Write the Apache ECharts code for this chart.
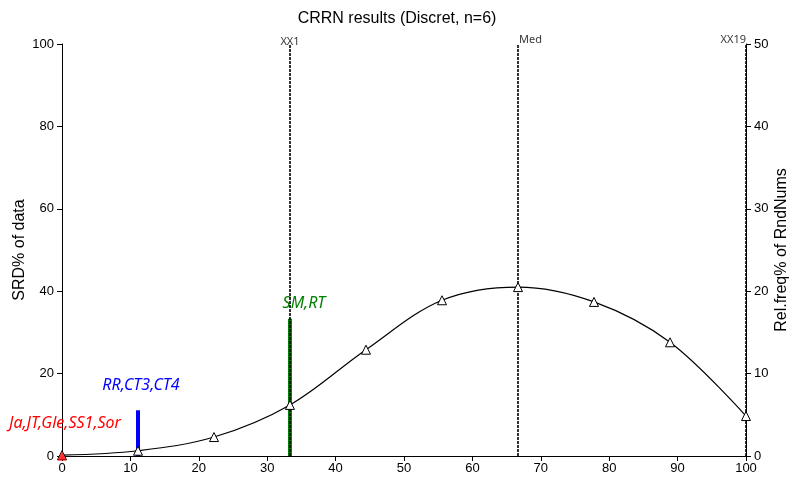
<!DOCTYPE html>
<html><head><meta charset="utf-8">
<script src="https://cdn.jsdelivr.net/npm/echarts@6/dist/echarts.min.js"></script>
<style>html,body{margin:0;padding:0;background:#fff}#c{width:794px;height:479px}</style>
</head><body><div id="c"></div>
<script>
const curveX = [0, 11.11, 22.22, 33.33, 44.44, 55.56, 66.67, 77.78, 88.89, 100];
const curveY = [0.1, 0.64, 2.3, 6.2, 12.9, 18.9, 20.5, 18.7, 13.8, 4.85];
const barX = [0, 11.11, 33.33];
const barY = [0, 11.1, 33.3];
const barColors = ['#ff0000', '#0000ff', '#008000'];
const barLabels = ['Ja,JT,Gle,SS1,Sor', 'RR,CT3,CT4', 'SM,RT'];
const vLineX = [33.33, 66.67, 100];
const vLineLabels = ['XX1', 'Med', 'XX19'];
const xTicks = [0, 10, 20, 30, 40, 50, 60, 70, 80, 90, 100];

const labelOffsets = [[3, -20], [3, -12], [14, -2]];
const vLabelStyle = [
  {align: 'center', offset: [0, 8]},
  {align: 'left', offset: [1, 6]},
  {align: 'right', offset: [0, 6]}
];

const chart = echarts.init(document.getElementById('c'));
const axisFont = {fontFamily: 'Liberation Sans, Arial', fontSize: 13, color: '#000'};
chart.setOption({
  animation: false,
  title: {text: 'CRRN results (Discret, n=6)', left: 'center', top: 6,
    textStyle: {fontFamily: 'Liberation Sans, Arial', fontSize: 16, fontWeight: 'normal', color: '#000'}},
  grid: {left: 62, right: 48, top: 44, bottom: 23, outerBoundsMode: 'none', containLabel: false},
  xAxis: {type: 'value', min: 0, max: 100, interval: 10,
    axisLine: {onZero: false, lineStyle: {color: '#000', width: 1}},
    axisTick: {show: true, length: 5, lineStyle: {color: '#000'}},
    axisLabel: Object.assign({margin: 6}, axisFont),
    splitLine: {show: false}},
  yAxis: [
    {type: 'value', min: 0, max: 100, interval: 20, position: 'left',
      name: 'SRD% of data', nameLocation: 'middle', nameGap: 34, nameMoveOverlap: false,
      nameTextStyle: {fontFamily: 'Liberation Sans, Arial', fontSize: 16, color: '#000'},
      axisLine: {show: true, lineStyle: {color: '#000'}},
      axisTick: {show: true, length: 5, lineStyle: {color: '#000'}},
      axisLabel: Object.assign({margin: 8}, axisFont),
      splitLine: {show: false}},
    {type: 'value', min: 0, max: 50, interval: 10, position: 'right',
      name: 'Rel.freq% of RndNums', nameLocation: 'middle', nameGap: 28, nameMoveOverlap: false,
      nameTextStyle: {fontFamily: 'Liberation Sans, Arial', fontSize: 16, color: '#000'},
      axisLine: {show: true, lineStyle: {color: '#000'}},
      axisTick: {show: true, length: 5, lineStyle: {color: '#000'}},
      axisLabel: Object.assign({margin: 8}, axisFont),
      splitLine: {show: false}}
  ],
  series: [
    {type: 'line', yAxisIndex: 1, smooth: 0.35,
      data: curveX.map((x, i) => [x, curveY[i]]),
      symbol: 'triangle', symbolSize: 9,
      itemStyle: {color: '#fff', borderColor: '#000', borderWidth: 1},
      lineStyle: {color: '#000', width: 1.2},
      z: 5},
    {type: 'bar', yAxisIndex: 0, barWidth: 4,
      data: barX.map((x, i) => ({value: [x, barY[i]],
        itemStyle: {color: barColors[i]},
        label: {show: true, position: 'top', formatter: barLabels[i], color: barColors[i],
          fontStyle: 'italic', fontFamily: 'Noto Sans', fontSize: 16,
          offset: labelOffsets[i]}})),
      z: 3},
    {type: 'scatter', yAxisIndex: 0, data: [[barX[0], barY[0]]],
      symbol: 'triangle', symbolSize: 9, itemStyle: {color: '#ff0000'}, z: 6},
    {type: 'scatter', yAxisIndex: 0, symbolSize: 0, silent: true,
      itemStyle: {color: '#000'},
      data: vLineX.map((x, i) => ({value: [x, 100],
        label: {show: true, position: 'top', formatter: vLineLabels[i], color: '#000',
          fontFamily: 'Noto Sans', fontSize: 11,
          align: vLabelStyle[i].align, offset: vLabelStyle[i].offset}})),
      markLine: {silent: true, symbol: 'none', label: {show: false},
        lineStyle: {color: '#000', type: [3, 1], width: 1.6, opacity: 1},
        data: vLineX.map(x => ({xAxis: x}))},
      z: 4}
  ]
});
</script></body></html>
